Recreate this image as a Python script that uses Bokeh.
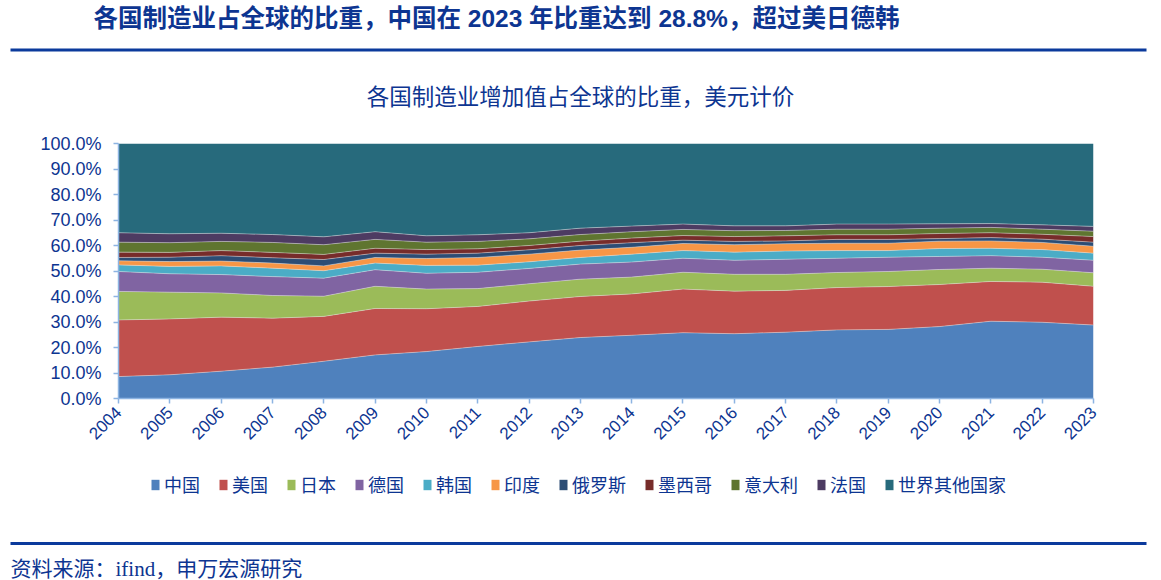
from bokeh.plotting import figure
from bokeh.models import (Range1d, PrintfTickFormatter, Legend, LegendItem,
                          FixedTicker, ColumnDataSource)
from bokeh.layouts import column
from bokeh.embed import file_html
from bokeh.resources import INLINE
from bokeh.core.properties import value
import math

# Share of global manufacturing value added (current USD), %
years = list(range(2004, 2024))
china = [8.6, 9.3, 10.7, 12.3, 14.6, 17.1, 18.4, 20.4, 22.2, 23.9,
         24.8, 25.8, 25.4, 26.0, 26.9, 27.1, 28.2, 30.3, 29.9, 28.8]
usa = [22.2, 21.9, 21.2, 19.2, 17.6, 18.2, 16.8, 15.7, 16.0, 16.1,
       16.2, 17.1, 16.7, 16.4, 16.6, 16.8, 16.5, 15.6, 15.7, 15.2]
japan = [11.2, 10.5, 9.5, 8.9, 7.9, 8.7, 7.7, 7.0, 6.8, 6.8,
         6.6, 6.6, 6.6, 6.3, 5.9, 5.9, 5.9, 5.2, 5.1, 5.3]
germany = [7.8, 7.2, 7.2, 7.4, 7.1, 6.5, 6.2, 6.4, 6.0, 5.9,
           5.9, 5.5, 5.5, 5.9, 5.6, 5.6, 5.1, 4.9, 4.7, 4.9]
korea = [2.6, 2.9, 3.4, 3.3, 2.9, 2.6, 3.1, 2.8, 2.6, 2.6,
         3.1, 3.0, 3.2, 3.2, 3.0, 2.6, 3.1, 2.9, 3.0, 2.8]
india = [1.6, 1.9, 1.9, 2.0, 1.9, 2.2, 2.7, 3.0, 3.0, 2.9,
         2.7, 2.8, 2.9, 2.9, 2.9, 2.9, 2.9, 2.9, 2.8, 2.7]
russia = [1.3, 1.7, 2.1, 2.1, 2.5, 1.7, 1.7, 1.7, 1.7, 1.8,
          1.8, 1.3, 1.3, 1.1, 1.5, 1.5, 1.0, 1.3, 1.3, 1.6]
mexico = [2.1, 1.9, 2.0, 2.1, 2.0, 1.9, 1.8, 1.7, 1.7, 1.7,
          1.8, 1.8, 1.9, 2.0, 1.8, 1.8, 2.0, 1.9, 1.9, 2.2]
italy = [3.9, 3.8, 3.6, 3.9, 3.8, 3.5, 2.9, 2.9, 2.6, 2.6,
         2.5, 2.4, 2.3, 2.1, 2.2, 2.2, 2.1, 2.1, 2.0, 2.1]
france = [3.7, 3.5, 3.2, 3.1, 3.1, 3.0, 2.5, 2.6, 2.4, 2.5,
          2.2, 2.1, 1.9, 1.8, 2.0, 2.0, 1.7, 1.5, 1.7, 1.9]
rest_of_world = [35.0, 35.4, 35.2, 35.7, 36.6, 34.6, 36.2, 35.8, 35.0, 33.2,
                 32.4, 31.6, 32.3, 32.3, 31.6, 31.6, 31.5, 31.4, 31.9, 32.5]

series_keys = ["china", "usa", "japan", "germany", "korea", "india",
               "russia", "mexico", "italy", "france", "rest"]
series_names = ["中国", "美国", "日本", "德国", "韩国", "印度",
                "俄罗斯", "墨西哥", "意大利", "法国", "世界其他国家"]
series_values = [china, usa, japan, germany, korea, india,
                 russia, mexico, italy, france, rest_of_world]
y_ticks = list(range(0, 101, 10))

colors = ["#4F81BD", "#C0504D", "#9BBB59", "#8064A2", "#4BACC6", "#F79646",
          "#2C4D75", "#772C2A", "#5F7530", "#4D3B62", "#276A7C"]

W = 1161
HEAD_H, FOOT_H = 120, 120
CHART_H = 580 - HEAD_H - FOOT_H
TEXT_BLUE = "#0D3591"
RULE_BLUE = "#0B3A9C"
AXIS_BLUE = "#8DB4E2"
SANS = "Liberation Sans, Noto Sans CJK SC"
SERIF = "Liberation Serif, Noto Sans CJK SC"


def blank(height):
    f = figure(width=W, height=height, x_range=Range1d(0, W),
               y_range=Range1d(height, 0), toolbar_location=None,
               output_backend="svg", min_border=0, outline_line_color=None,
               x_axis_location=None, y_axis_location=None)
    f.grid.visible = False
    f.frame_align = False
    return f


# --- header: headline, rule and chart subtitle ---
head = blank(HEAD_H)
head.text(x=[93], y=[18],
          text=["各国制造业占全球的比重，中国在 2023 年比重达到 28.8%，超过美日德韩"],
          text_font=value(SANS), text_font_style="bold", text_font_size="24.5px",
          text_color=TEXT_BLUE, text_baseline="middle", text_align="left")
head.line(x=[10, 1146], y=[49.5, 49.5], line_width=3, line_color=RULE_BLUE)
head.text(x=[580], y=[97], text=["各国制造业增加值占全球的比重，美元计价"],
          text_font=value(SANS), text_font_size="22.5px", text_color=TEXT_BLUE,
          text_baseline="middle", text_align="center")

# --- main chart: stacked shares ---
p = figure(width=W, height=CHART_H, x_range=Range1d(2004, 2023), y_range=Range1d(0, 100),
           toolbar_location=None, output_backend="svg",
           min_border_left=118, min_border_right=68,
           min_border_top=143 - HEAD_H, min_border_bottom=HEAD_H + CHART_H - 398,
           outline_line_color=None)
p.frame_align = False
p.grid.visible = False

data = {"year": years}
for k, v in zip(series_keys, series_values):
    data[k] = v
src = ColumnDataSource(data)

p.varea_stack(stackers=series_keys, x="year", color=colors, source=src)
p.vline_stack(stackers=series_keys[:-1], x="year", source=src,
              line_color="#E6E6E6", line_alpha=0.55, line_width=0.8)

p.xaxis.ticker = FixedTicker(ticks=years)
p.xaxis.major_label_orientation = math.pi / 4
p.yaxis.ticker = FixedTicker(ticks=y_ticks)
p.yaxis.formatter = PrintfTickFormatter(format="%.1f%%")
for ax in (p.xaxis, p.yaxis):
    ax.axis_line_color = AXIS_BLUE
    ax.axis_line_width = 1.5
    ax.major_tick_line_color = AXIS_BLUE
    ax.major_tick_line_width = 1.5
    ax.major_tick_in = 0
    ax.major_tick_out = 5
    ax.minor_tick_line_color = None
    ax.major_label_text_color = TEXT_BLUE
    ax.major_label_text_font = SANS
p.yaxis.major_label_text_font_size = "18px"
p.yaxis.major_label_standoff = 12
p.xaxis.major_label_text_font_size = "17px"
p.xaxis.major_label_standoff = 6

# --- footer: legend, rule and source ---
foot = blank(FOOT_H)
# legend swatches: tiny areas parked left of the visible range
swatches = [foot.varea(x=[-20, -10], y1=[0, 0], y2=[1, 1], fill_color=c) for c in colors]
legend = Legend(items=[LegendItem(label=n, renderers=[r]) for n, r in zip(series_names, swatches)],
                orientation="horizontal", location=(150, 83),
                label_text_font=SANS, label_text_font_size="18px",
                label_text_color=TEXT_BLUE, glyph_width=10, glyph_height=13,
                label_standoff=4, spacing=18, border_line_color=None,
                background_fill_alpha=0, padding=0, margin=0)
foot.add_layout(legend, "center")
foot.line(x=[10, 1146], y=[83, 83], line_width=3, line_color=RULE_BLUE)
foot.text(x=[10], y=[108], text=["资料来源：ifind，申万宏源研究"],
          text_font=value(SERIF), text_font_size="21px", text_color=TEXT_BLUE,
          text_baseline="middle", text_align="left")

page = column(head, p, foot, spacing=0)
open("out.html", "w").write(file_html(page, INLINE))
